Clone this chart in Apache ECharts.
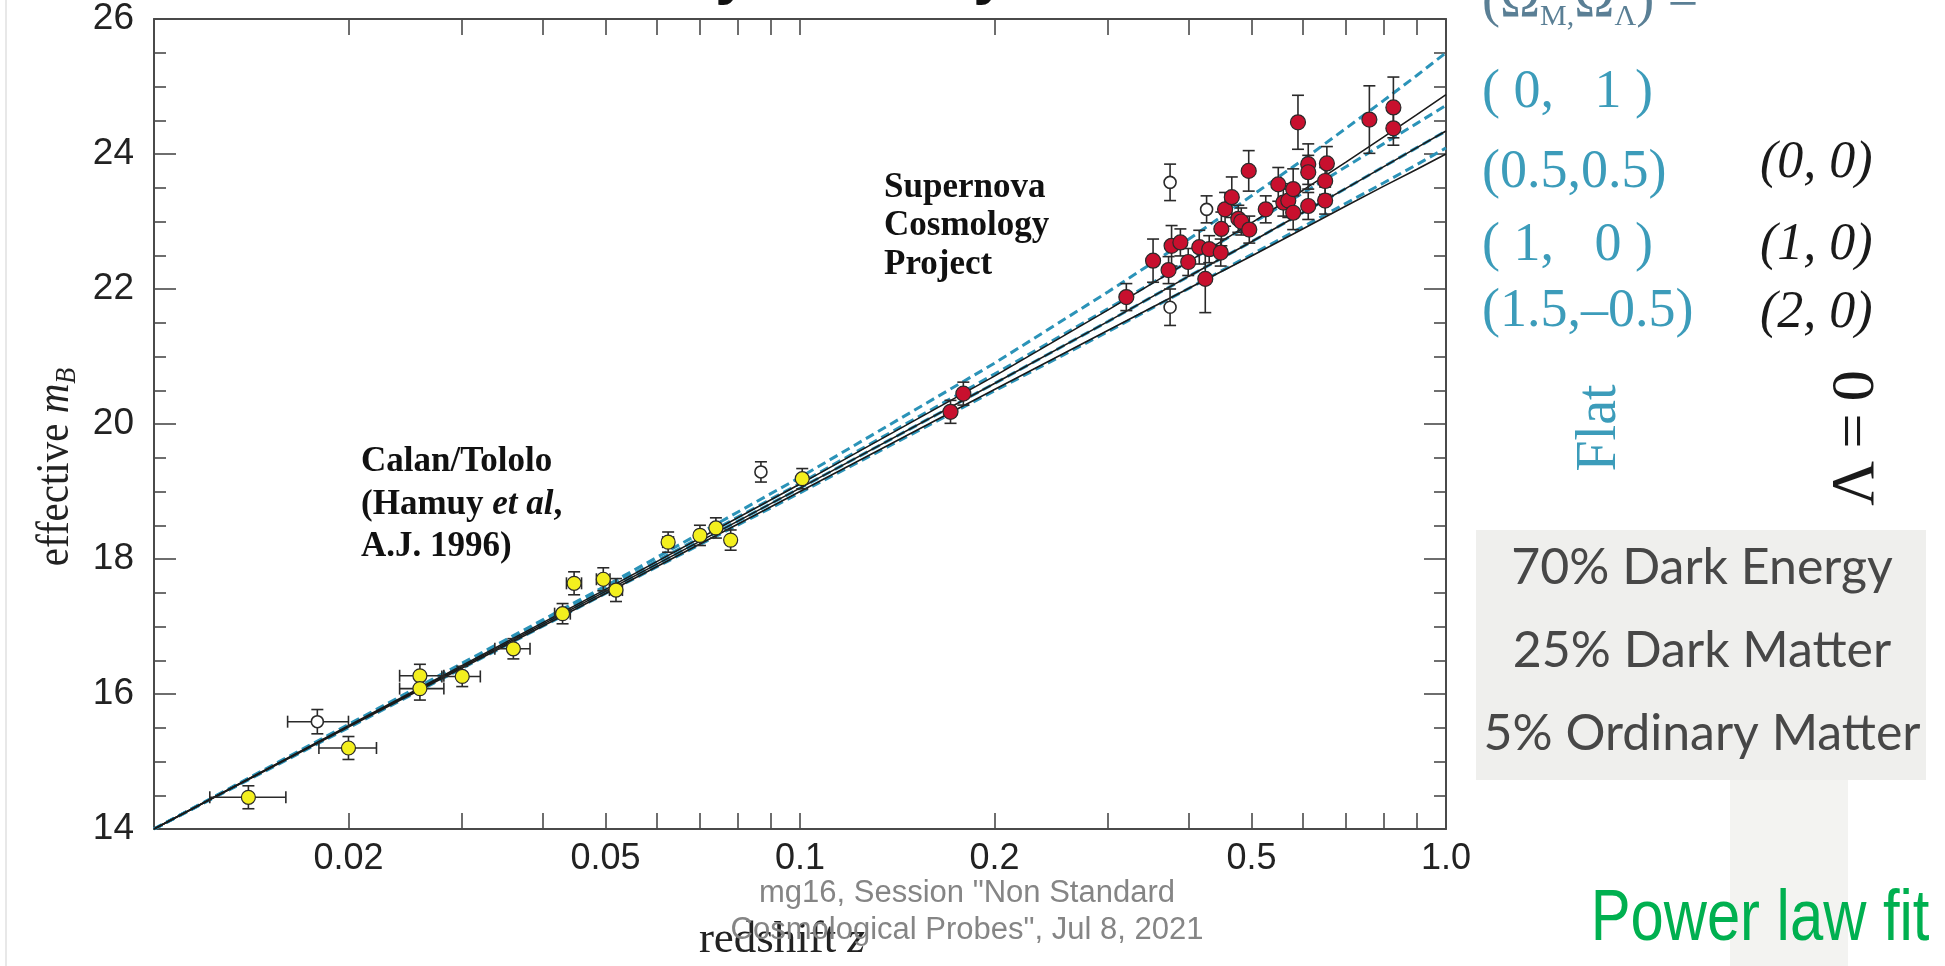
<!DOCTYPE html>
<html><head><meta charset="utf-8">
<script src="https://cdn.jsdelivr.net/npm/echarts@6/dist/echarts.min.js"></script>
<style>html,body{margin:0;padding:0;background:#fff}#c{width:1945px;height:966px}</style>
</head><body><div id="c"></div><script>
// ---------- axis ticks ----------
const xTickValues = [0.02,0.03,0.04,0.05,0.06,0.07,0.08,0.09,0.1,0.2,0.3,0.4,0.5,0.6,0.7,0.8,0.9];
const xLabelValues = [0.02,0.05,0.1,0.2,0.5,1];
const yMin = 14, yMax = 26, yStep = 2;

// ---------- model curves ----------
const curveZ       = [0.01,0.02,0.05,0.1,0.2,0.3,0.4,0.5,0.6,0.7,0.8,0.9,1.0];
const flat_0_1     = [14.0,15.55,17.60,19.21,20.90,21.96,22.74,23.38,23.91,24.38,24.79,25.16,25.50];
const flat_05_05   = [14.0,15.53,17.56,19.12,20.74,21.71,22.41,22.97,23.42,23.81,24.15,24.45,24.72];
const flat_1_0     = [14.0,15.52,17.52,19.05,20.60,21.52,22.19,22.70,23.13,23.49,23.81,24.09,24.34];
const flat_15_m05  = [14.0,15.50,17.49,18.98,20.49,21.37,22.01,22.51,22.92,23.27,23.57,23.84,24.09];
const lam0_0_0     = [14.0,15.53,17.55,19.11,20.71,21.69,22.41,22.98,23.46,23.88,24.25,24.58,24.88];
const lam0_1_0     = [14.0,15.52,17.52,19.05,20.60,21.52,22.19,22.70,23.13,23.49,23.81,24.09,24.34];
const lam0_2_0     = [14.0,15.51,17.49,19.00,20.51,21.39,22.01,22.49,22.89,23.23,23.52,23.77,24.00];

// ---------- supernovae: [z, m, dm, zLow, zHigh] ----------
const calanTololo = [
  [0.0140,14.47,0.17,0.0122,0.0160],
  [0.0200,15.20,0.17,0.0180,0.0221],
  [0.0258,16.27,0.17,0.0240,0.0281],
  [0.0258,16.08,0.17,0.0240,0.0281],
  [0.0300,16.26,0.15,0.0279,0.0320],
  [0.0360,16.67,0.15,0.0337,0.0382],
  [0.0429,17.19,0.15,0.0417,0.0441],
  [0.0447,17.64,0.17,0.0435,0.0459],
  [0.0496,17.70,0.17,0.0484,0.0508],
  [0.0519,17.54,0.17,0.0507,0.0531],
  [0.0625,18.25,0.15,0.0613,0.0637],
  [0.0700,18.35,0.15,0.0690,0.0710],
  [0.0741,18.46,0.15,0.0731,0.0751],
  [0.0781,18.28,0.15,0.0771,0.0791],
  [0.1008,19.19,0.15,0.0998,0.1018]
];
const excluded = [
  [0.0179,15.59,0.18,0.0161,0.0200],
  [0.0870,19.29,0.15,0,0],
  [0.374,23.58,0.27,0,0],
  [0.374,21.73,0.27,0,0],
  [0.426,23.18,0.20,0,0]
];
const scp = [
  [0.171,20.18,0.17,0,0],[0.179,20.45,0.17,0,0],[0.320,21.88,0.20,0,0],
  [0.352,22.42,0.32,0,0],[0.372,22.28,0.20,0,0],[0.376,22.64,0.30,0,0],
  [0.388,22.69,0.20,0,0],[0.399,22.40,0.20,0,0],[0.415,22.62,0.25,0,0],
  [0.424,22.15,0.50,0,0],[0.430,22.59,0.20,0,0],[0.448,22.54,0.20,0,0],
  [0.449,22.89,0.25,0,0],[0.455,23.18,0.25,0,0],[0.466,23.36,0.30,0,0],
  [0.477,23.04,0.20,0,0],[0.482,23.00,0.20,0,0],[0.496,22.88,0.20,0,0],
  [0.495,23.75,0.30,0,0],[0.526,23.18,0.20,0,0],[0.550,23.55,0.25,0,0],
  [0.560,23.28,0.20,0,0],[0.570,23.31,0.25,0,0],[0.580,23.48,0.30,0,0],
  [0.580,23.13,0.25,0,0],[0.590,24.47,0.40,0,0],[0.612,23.23,0.20,0,0],
  [0.612,23.85,0.30,0,0],[0.612,23.73,0.25,0,0],[0.650,23.60,0.20,0,0],
  [0.650,23.31,0.20,0,0],[0.654,23.86,0.25,0,0],[0.761,24.51,0.50,0,0],
  [0.829,24.69,0.45,0,0],[0.829,24.38,0.25,0,0]
];

// ---------- labels ----------
const flatLabels = ['( 0,   1 )','(0.5,0.5)','( 1,   0 )','(1.5,\u20130.5)'];
const lambdaLabels = ['(0, 0)','(1, 0)','(2, 0)'];
const budgetLabels = ['70% Dark Energy','25% Dark Matter','5% Ordinary Matter'];

const TEAL_LINE = '#2b93b8', TEAL_TEXT = '#3c9cba';
const pairs = ys => curveZ.map((z,i)=>[z, ys[i]]);

function errRender(params, api){
  const z=api.value(0), m=api.value(1), dm=api.value(2), zl=api.value(3), zh=api.value(4);
  const st={stroke:'#2a2a2a', lineWidth:1.6};
  const t=api.coord([z,m+dm]), b=api.coord([z,m-dm]);
  const c=6;
  const ch=[
    {type:'line',shape:{x1:t[0],y1:t[1],x2:b[0],y2:b[1]},style:st},
    {type:'line',shape:{x1:t[0]-c,y1:t[1],x2:t[0]+c,y2:t[1]},style:st},
    {type:'line',shape:{x1:b[0]-c,y1:b[1],x2:b[0]+c,y2:b[1]},style:st}
  ];
  if (zl>0){
    const l=api.coord([zl,m]), r=api.coord([zh,m]);
    ch.push({type:'line',shape:{x1:l[0],y1:l[1],x2:r[0],y2:r[1]},style:st});
    ch.push({type:'line',shape:{x1:l[0],y1:l[1]-c,x2:l[0],y2:l[1]+c},style:st});
    ch.push({type:'line',shape:{x1:r[0],y1:r[1]-c,x2:r[0],y2:r[1]+c},style:st});
  }
  return {type:'group',children:ch};
}

const axisLineStyle = {color:'#4a4a4a', width:2};
const xAxisBase = {
  type:'log', logBase:10, min:0.01, max:1,
  axisLine:{show:true, onZero:false, lineStyle:axisLineStyle},
  axisTick:{show:true, inside:true, length:16, customValues:xTickValues, lineStyle:{color:'#4a4a4a', width:1.6}},
  splitLine:{show:false}, minorTick:{show:false}
};
const yAxisBase = {
  type:'value', min:yMin, max:yMax, interval:yStep,
  axisLine:{show:true, onZero:false, lineStyle:axisLineStyle},
  axisTick:{show:true, inside:true, length:22, lineStyle:{color:'#4a4a4a', width:1.6}},
  minorTick:{show:true, splitNumber:4, length:12, lineStyle:{color:'#4a4a4a', width:1.6}},
  splitLine:{show:false}
};

const serif = '"Liberation Serif","DejaVu Serif",serif';
const sans = '"Liberation Sans",Arial,sans-serif';
function txt(x,y,text,o){
  return Object.assign({type:'text', x:x, y:y, z:20,
    style:Object.assign({text:text, align:'left', verticalAlign:'middle', fill:'#111',
      fontFamily:serif, fontSize:34}, o.style||{})}, o.el||{});
}

const graphic = [
  {type:'line', z:1, shape:{x1:6,y1:0,x2:6,y2:966}, style:{stroke:'#e8e8e8', lineWidth:2}},
  {type:'rect', z:1, shape:{x:1476,y:530,width:450,height:250}, style:{fill:'#efefed'}},
  {type:'rect', z:1, shape:{x:1730,y:780,width:118,height:186}, style:{fill:'#f3f3f1'}},
  // cut-off title descenders
  txt(732,-24,'y',{style:{fontFamily:sans,fontWeight:'bold',fontSize:60,align:'center'}}),
  txt(990,-24,'y',{style:{fontFamily:sans,fontWeight:'bold',fontSize:60,align:'center'}}),
  // Supernova Cosmology Project
  txt(884,188,'Supernova',{style:{fontWeight:'bold',fontSize:35}}),
  txt(884,226,'Cosmology',{style:{fontWeight:'bold',fontSize:35}}),
  txt(884,265,'Project',{style:{fontWeight:'bold',fontSize:35}}),
  // Calan/Tololo
  txt(361,462,'Calan/Tololo',{style:{fontWeight:'bold',fontSize:35}}),
  {type:'text', x:361, y:505, z:20, style:{text:'{a|(Hamuy }{b|et al},', verticalAlign:'middle',
    fontFamily:serif, fontSize:35, fontWeight:'bold', fill:'#111',
    rich:{a:{fontFamily:serif,fontSize:35,fontWeight:'bold',fill:'#111'},
          b:{fontFamily:serif,fontSize:35,fontWeight:'bold',fontStyle:'italic',fill:'#111'}}}},
  txt(361,547,'A.J. 1996)',{style:{fontWeight:'bold',fontSize:35}}),
  // y-axis name
  {type:'text', x:56, y:467, z:20, rotation:Math.PI/2, scaleY:1.15,
    style:{text:'{a|effective }{m|m}{s|B}', align:'center', verticalAlign:'middle',
      rich:{a:{fontFamily:serif,fontSize:41,fill:'#222',lineHeight:46},
            m:{fontFamily:serif,fontSize:41,fontStyle:'italic',fill:'#222',lineHeight:46},
            s:{fontFamily:serif,fontSize:26,fontStyle:'italic',fill:'#222',lineHeight:46,verticalAlign:'bottom',padding:[14,0,0,0]}}}},
  // x-axis name
  {type:'text', x:782, y:940, z:20,
    style:{text:'{a|redshift }{z|z}', align:'center', verticalAlign:'middle',
      rich:{a:{fontFamily:serif,fontSize:45,fill:'#222'},
            z:{fontFamily:serif,fontSize:45,fontStyle:'italic',fill:'#222'}}}},
  // footer
  txt(967,893,'mg16, Session "Non Standard',{style:{fontFamily:sans,fontSize:31,fill:'#858585',align:'center'},el:{z:25}}),
  txt(967,930,'Cosmological Probes", Jul 8, 2021',{style:{fontFamily:sans,fontSize:31,fill:'#858585',align:'center'},el:{z:25}}),
  // (ΩM,ΩΛ) =
  {type:'text', x:1482, y:2, z:20,
    style:{text:'{a|(Ω}{s|M,}{a|Ω}{s|Λ}{a|) =}', verticalAlign:'middle',
      rich:{a:{fontFamily:serif,fontSize:54,fill:'#5a7f95',lineHeight:60},
            s:{fontFamily:serif,fontSize:30,fill:'#5a7f95',lineHeight:60,verticalAlign:'bottom'}}}},
  txt(1482,93,flatLabels[0],{style:{fontSize:54,fill:TEAL_TEXT}}),
  txt(1482,173,flatLabels[1],{style:{fontSize:54,fill:TEAL_TEXT}}),
  txt(1482,246,flatLabels[2],{style:{fontSize:54,fill:TEAL_TEXT}}),
  txt(1482,312,flatLabels[3],{style:{fontSize:54,fill:TEAL_TEXT}}),
  txt(1760,163,lambdaLabels[0],{style:{fontSize:52,fontStyle:'italic',fill:'#1a1a1a'}}),
  txt(1760,245,lambdaLabels[1],{style:{fontSize:52,fontStyle:'italic',fill:'#1a1a1a'}}),
  txt(1760,313,lambdaLabels[2],{style:{fontSize:52,fontStyle:'italic',fill:'#1a1a1a'}}),
  {type:'text', x:1600, y:428, z:20, rotation:Math.PI/2,
    style:{text:'Flat', align:'center', verticalAlign:'middle', fontFamily:serif, fontSize:56, fill:TEAL_TEXT}},
  {type:'text', x:1857, y:438, z:20, rotation:Math.PI/2,
    style:{text:'\u039B\u2009=\u20090', align:'center', verticalAlign:'middle', fontFamily:serif, fontSize:62, fill:'#1a1a1a'}},
  // budget box
  txt(1702,568,budgetLabels[0],{style:{fontFamily:'Lato, sans-serif',fontSize:50,fill:'#474747',align:'center'}}),
  txt(1702,651,budgetLabels[1],{style:{fontFamily:'Lato, sans-serif',fontSize:50,fill:'#474747',align:'center'}}),
  txt(1702,734,budgetLabels[2],{style:{fontFamily:'Lato, sans-serif',fontSize:50,fill:'#474747',align:'center'}}),
  // Power law fit
  txt(1760,920,'Power law fit',{style:{fontFamily:sans,fontSize:72,fill:'#00b050',align:'center'},el:{scaleX:0.83}})
];

const dashed = (name, ys) => ({type:'line', name, data:pairs(ys), showSymbol:false, silent:true, z:3,
  lineStyle:{color:TEAL_LINE, width:3, type:[9,5]}});
const solid = (name, ys) => ({type:'line', name, data:pairs(ys), showSymbol:false, silent:true, z:4,
  lineStyle:{color:'#1a1a1a', width:1.6}});
const errSeries = (d) => ({type:'custom', data:d, renderItem:errRender, encode:{x:0,y:1}, z:5, silent:true, clip:false});
const pts = (d, color, border, size, bw) => ({type:'scatter', data:d.map(r=>[r[0],r[1]]), symbol:'circle', symbolSize:size, z:6, silent:true,
  itemStyle:{color, borderColor:border, borderWidth:bw, opacity:1}});

const chart = echarts.init(document.getElementById('c'), null, {renderer:'canvas'});
chart.setOption({
  backgroundColor:'#ffffff',
  animation:false,
  grid:{left:154, right:499, top:19, bottom:137, containLabel:false},
  xAxis:[
    Object.assign({}, xAxisBase, {position:'bottom',
      axisLabel:{show:true, customValues:xLabelValues, margin:12, color:'#222', fontFamily:sans, fontSize:36,
        formatter: v => (Math.abs(v-1)<1e-9 ? '1.0' : String(+v.toPrecision(3)))}}),
    Object.assign({}, xAxisBase, {position:'top', axisLabel:{show:false}})
  ],
  yAxis:[
    Object.assign({}, yAxisBase, {position:'left',
      axisLabel:{show:true, margin:20, color:'#222', fontFamily:sans, fontSize:37}}),
    Object.assign({}, yAxisBase, {position:'right', axisLabel:{show:false}})
  ],
  graphic: graphic,
  series:[
    dashed('(0,1)', flat_0_1),
    dashed('(0.5,0.5)', flat_05_05),
    dashed('(1,0) flat', flat_1_0),
    dashed('(1.5,-0.5)', flat_15_m05),
    solid('(0,0)', lam0_0_0),
    solid('(1,0)', lam0_1_0),
    solid('(2,0)', lam0_2_0),
    errSeries(calanTololo),
    errSeries(excluded),
    errSeries(scp),
    pts(excluded, '#ffffff', '#2a2a2a', 12, 1.6),
    pts(calanTololo, '#f3ef1e', '#2a2a2a', 14, 1.2),
    pts(scp, '#c8102e', '#2a2a2a', 15, 1.2)
  ]
});
</script></body></html>
